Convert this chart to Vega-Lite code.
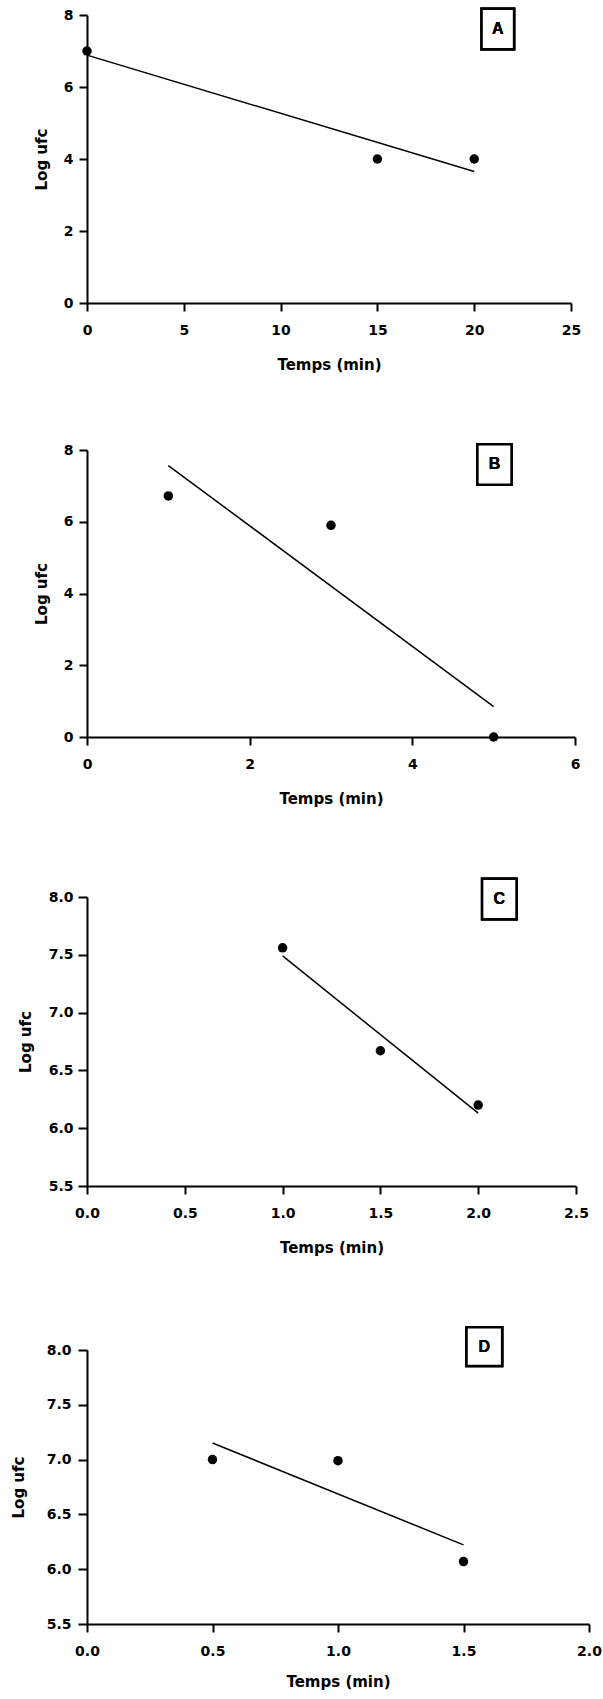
{
  "$schema": "https://vega.github.io/schema/vega-lite/v6.json",
  "padding": {"top": 7, "left": 11, "right": 5, "bottom": 4},
  "background": "white",
  "datasets": {
    "a": [{"t": 0, "logufc": 7.0}, {"t": 15, "logufc": 4.0}, {"t": 20, "logufc": 4.0}],
    "b": [{"t": 1, "logufc": 6.72}, {"t": 3, "logufc": 5.9}, {"t": 5, "logufc": 0.0}],
    "c": [{"t": 1, "logufc": 7.56}, {"t": 1.5, "logufc": 6.67}, {"t": 2, "logufc": 6.2}],
    "d": [{"t": 0.5, "logufc": 7.0}, {"t": 1, "logufc": 6.99}, {"t": 1.5, "logufc": 6.07}]
  },
  "spacing": 71,
  "vconcat": [
    {
      "width": 484, "height": 288,
      "data": {"name": "a"},
      "layer": [
        {
          "mark": {"type": "point", "filled": true, "shape": "circle", "size": 90, "color": "black", "opacity": 1},
          "encoding": {
            "x": {"field": "t", "type": "quantitative", "title": "Temps (min)", "scale": {"domain": [0, 25], "nice": false, "zero": false},
                  "axis": {"values": [0, 5, 10, 15, 20, 25], "format": "d"}},
            "y": {"field": "logufc", "type": "quantitative", "title": "Log ufc", "scale": {"domain": [0, 8], "nice": false, "zero": false},
                  "axis": {"values": [0, 2, 4, 6, 8], "format": "d", "labelPadding": 6, "titlePadding": 14}}
          }
        },
        {
          "transform": [{"regression": "logufc", "on": "t"}],
          "mark": {"type": "line", "color": "black", "strokeWidth": 1.5},
          "encoding": {
            "x": {"field": "t", "type": "quantitative", "title": "Temps (min)"},
            "y": {"field": "logufc", "type": "quantitative", "title": "Log ufc"}
          }
        },
        {
          "mark": {"type": "rect", "fill": "white", "stroke": "black", "strokeWidth": 2.5},
          "encoding": {
            "x": {"datum": 20.38, "type": "quantitative", "title": "Temps (min)"}, "x2": {"datum": 22.06},
            "y": {"datum": 8.175, "type": "quantitative", "title": "Log ufc"}, "y2": {"datum": 7.05}
          }
        },
        {
          "mark": {"type": "text", "text": "A", "font": "Liberation Sans", "fontWeight": "bold", "fontSize": 16, "align": "center", "baseline": "middle", "color": "black"},
          "encoding": {
            "x": {"datum": 21.22, "type": "quantitative", "title": "Temps (min)"},
            "y": {"datum": 7.61, "type": "quantitative", "title": "Log ufc"}
          }
        }
      ]
    },
    {
      "width": 488, "height": 287,
      "data": {"name": "b"},
      "layer": [
        {
          "mark": {"type": "point", "filled": true, "shape": "circle", "size": 90, "color": "black", "opacity": 1},
          "encoding": {
            "x": {"field": "t", "type": "quantitative", "title": "Temps (min)", "scale": {"domain": [0, 6], "nice": false, "zero": false},
                  "axis": {"values": [0, 2, 4, 6], "format": "d"}},
            "y": {"field": "logufc", "type": "quantitative", "title": "Log ufc", "scale": {"domain": [0, 8], "nice": false, "zero": false},
                  "axis": {"values": [0, 2, 4, 6, 8], "format": "d", "labelPadding": 6, "titlePadding": 14}}
          }
        },
        {
          "transform": [{"regression": "logufc", "on": "t"}],
          "mark": {"type": "line", "color": "black", "strokeWidth": 1.5},
          "encoding": {
            "x": {"field": "t", "type": "quantitative", "title": "Temps (min)"},
            "y": {"field": "logufc", "type": "quantitative", "title": "Log ufc"}
          }
        },
        {
          "mark": {"type": "rect", "fill": "white", "stroke": "black", "strokeWidth": 2.5},
          "encoding": {
            "x": {"datum": 4.8, "type": "quantitative", "title": "Temps (min)"}, "x2": {"datum": 5.22},
            "y": {"datum": 8.16, "type": "quantitative", "title": "Log ufc"}, "y2": {"datum": 7.03}
          }
        },
        {
          "mark": {"type": "text", "text": "B", "font": "Liberation Sans", "fontWeight": "bold", "fontSize": 16, "align": "center", "baseline": "middle", "color": "black"},
          "encoding": {
            "x": {"datum": 5.01, "type": "quantitative", "title": "Temps (min)"},
            "y": {"datum": 7.6, "type": "quantitative", "title": "Log ufc"}
          }
        }
      ]
    },
    {
      "width": 489, "height": 289,
      "data": {"name": "c"},
      "layer": [
        {
          "mark": {"type": "point", "filled": true, "shape": "circle", "size": 90, "color": "black", "opacity": 1},
          "encoding": {
            "x": {"field": "t", "type": "quantitative", "title": "Temps (min)", "scale": {"domain": [0, 2.5], "nice": false, "zero": false},
                  "axis": {"values": [0, 0.5, 1, 1.5, 2, 2.5], "format": ".1f"}},
            "y": {"field": "logufc", "type": "quantitative", "title": "Log ufc", "scale": {"domain": [5.5, 8], "nice": false, "zero": false},
                  "axis": {"values": [5.5, 6, 6.5, 7, 7.5, 8], "format": ".1f", "tickSize": 9, "labelPadding": 5, "titlePadding": 15}}
          }
        },
        {
          "transform": [{"regression": "logufc", "on": "t"}],
          "mark": {"type": "line", "color": "black", "strokeWidth": 1.5},
          "encoding": {
            "x": {"field": "t", "type": "quantitative", "title": "Temps (min)"},
            "y": {"field": "logufc", "type": "quantitative", "title": "Log ufc"}
          }
        },
        {
          "mark": {"type": "rect", "fill": "white", "stroke": "black", "strokeWidth": 2.5},
          "encoding": {
            "x": {"datum": 2.02, "type": "quantitative", "title": "Temps (min)"}, "x2": {"datum": 2.196},
            "y": {"datum": 8.158, "type": "quantitative", "title": "Log ufc"}, "y2": {"datum": 7.807}
          }
        },
        {
          "mark": {"type": "text", "text": "C", "font": "Liberation Sans", "fontWeight": "bold", "fontSize": 16, "align": "center", "baseline": "middle", "color": "black"},
          "encoding": {
            "x": {"datum": 2.108, "type": "quantitative", "title": "Temps (min)"},
            "y": {"datum": 7.982, "type": "quantitative", "title": "Log ufc"}
          }
        }
      ]
    },
    {
      "width": 502, "height": 274,
      "data": {"name": "d"},
      "layer": [
        {
          "mark": {"type": "point", "filled": true, "shape": "circle", "size": 90, "color": "black", "opacity": 1},
          "encoding": {
            "x": {"field": "t", "type": "quantitative", "title": "Temps (min)", "scale": {"domain": [0, 2], "nice": false, "zero": false},
                  "axis": {"values": [0, 0.5, 1, 1.5, 2], "format": ".1f", "titlePadding": 16}},
            "y": {"field": "logufc", "type": "quantitative", "title": "Log ufc", "scale": {"domain": [5.5, 8], "nice": false, "zero": false},
                  "axis": {"values": [5.5, 6, 6.5, 7, 7.5, 8], "format": ".1f", "tickSize": 9, "labelPadding": 7, "titlePadding": 20}}
          }
        },
        {
          "transform": [{"regression": "logufc", "on": "t"}],
          "mark": {"type": "line", "color": "black", "strokeWidth": 1.5},
          "encoding": {
            "x": {"field": "t", "type": "quantitative", "title": "Temps (min)"},
            "y": {"field": "logufc", "type": "quantitative", "title": "Log ufc"}
          }
        },
        {
          "mark": {"type": "rect", "fill": "white", "stroke": "black", "strokeWidth": 2.5},
          "encoding": {
            "x": {"datum": 1.512, "type": "quantitative", "title": "Temps (min)"}, "x2": {"datum": 1.654},
            "y": {"datum": 8.207, "type": "quantitative", "title": "Log ufc"}, "y2": {"datum": 7.854}
          }
        },
        {
          "mark": {"type": "text", "text": "D", "font": "Liberation Sans", "fontWeight": "bold", "fontSize": 16, "align": "center", "baseline": "middle", "color": "black"},
          "encoding": {
            "x": {"datum": 1.583, "type": "quantitative", "title": "Temps (min)"},
            "y": {"datum": 8.03, "type": "quantitative", "title": "Log ufc"}
          }
        }
      ]
    }
  ],
  "config": {
    "view": {"stroke": null},
    "axis": {
      "grid": false,
      "domainColor": "black", "domainWidth": 2,
      "tickColor": "black", "tickWidth": 2, "tickSize": 8,
      "labelFont": "DejaVu Sans", "labelFontWeight": "bold", "labelFontSize": 14, "labelColor": "black",
      "labelFlush": false, "labelOverlap": false,
      "titleFont": "DejaVu Sans", "titleFontWeight": "bold", "titleFontSize": 15, "titleColor": "black"
    },
    "axisX": {"labelPadding": 12, "titlePadding": 20}
  }
}
